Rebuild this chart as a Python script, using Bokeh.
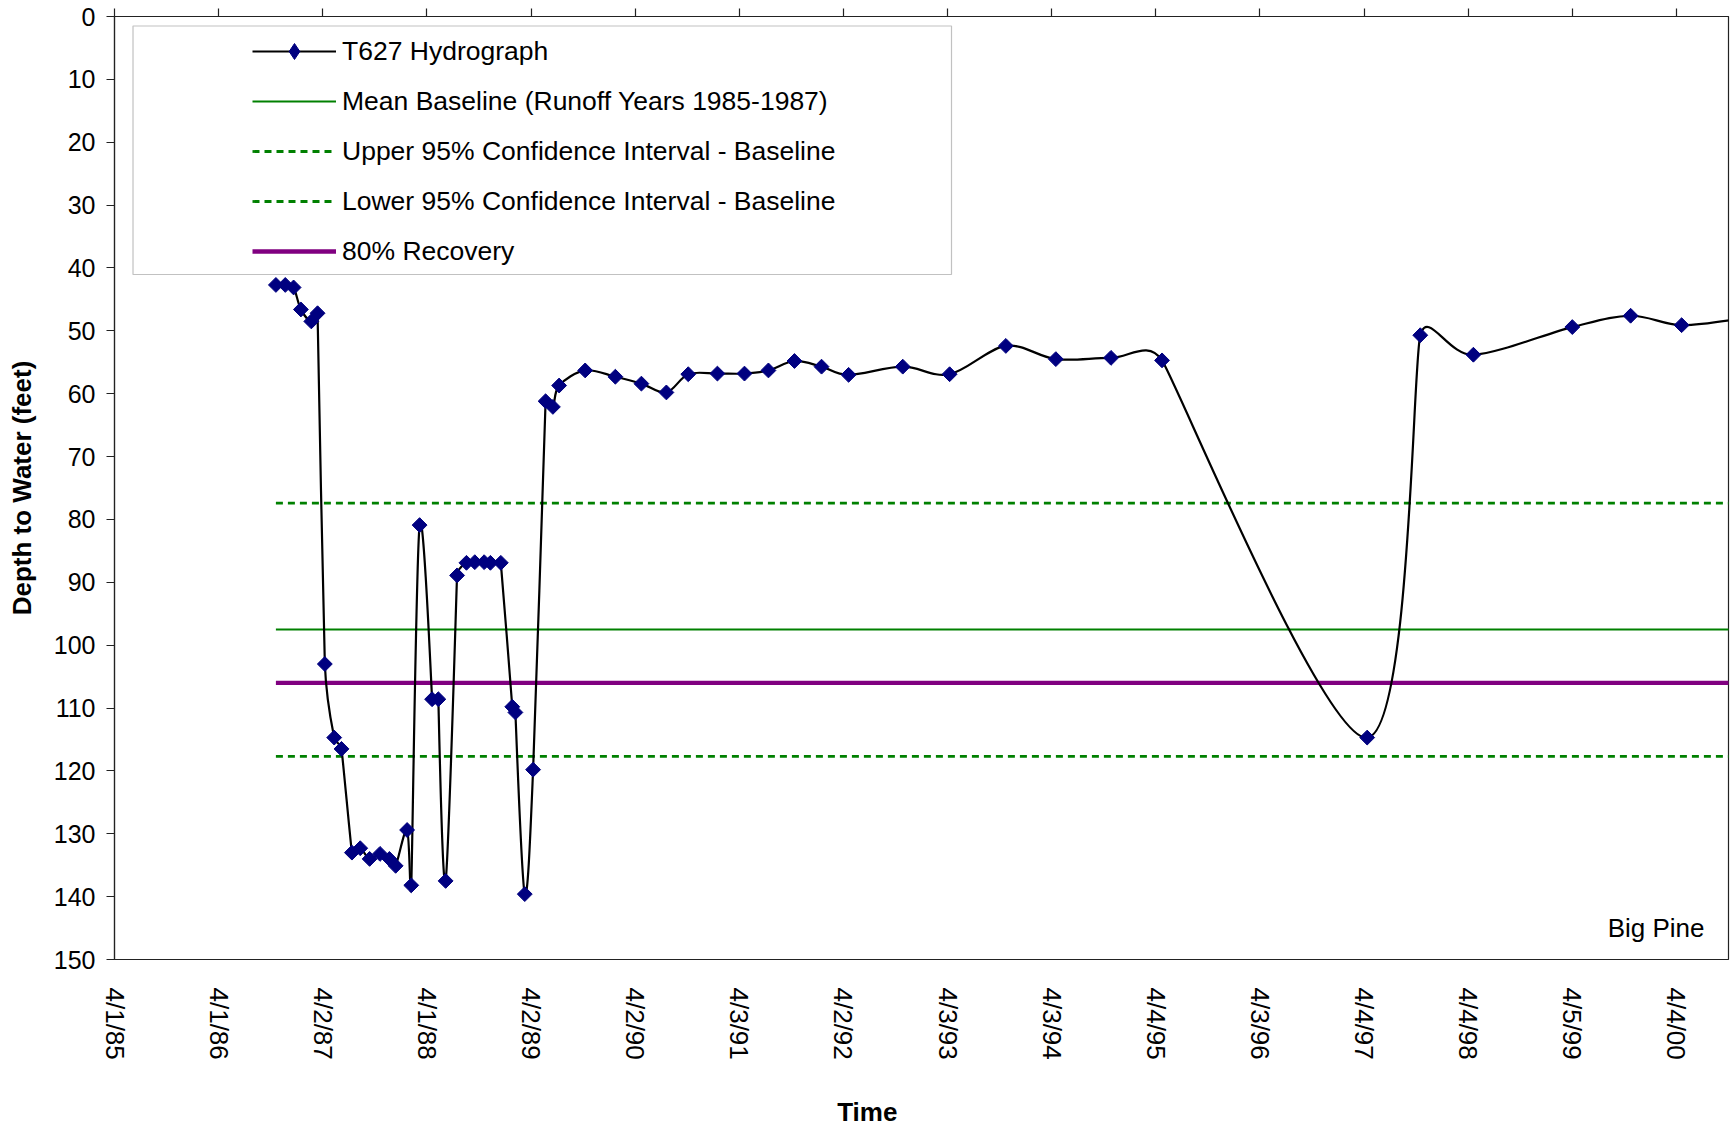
import math
from bokeh.plotting import figure
from bokeh.models import (Range1d, FixedTicker, LinearAxis, Legend, LegendItem,
                          BoxAnnotation, Label, ColumnDataSource)
from bokeh.embed import file_html
from bokeh.resources import INLINE

# ---------------- data ----------------
tick_labels = ["4/1/85", "4/1/86", "4/2/87", "4/1/88", "4/2/89", "4/2/90", "4/3/91",
               "4/2/92", "4/3/93", "4/3/94", "4/4/95", "4/3/96", "4/4/97", "4/4/98",
               "4/5/99", "4/4/00"]
tick_start = 1985.25  # 4/1/85 as decimal year

dates = [1986.80, 1986.89, 1986.97, 1987.04, 1987.14, 1987.20, 1987.27, 1987.36,
         1987.43, 1987.53, 1987.61, 1987.70, 1987.80, 1987.89, 1987.95, 1988.06,
         1988.10, 1988.18, 1988.30, 1988.36, 1988.43, 1988.54, 1988.63, 1988.71,
         1988.80, 1988.86, 1988.96, 1989.07, 1989.10, 1989.19, 1989.27, 1989.39,
         1989.46, 1989.52, 1989.77, 1990.06, 1990.31, 1990.55, 1990.76, 1991.04,
         1991.30, 1991.53, 1991.78, 1992.04, 1992.30, 1992.82, 1993.27, 1993.81,
         1994.29, 1994.82, 1995.31, 1997.28, 1997.79, 1998.30, 1999.25, 1999.81,
         2000.30, 2000.90]
depth = [42.7, 42.7, 43.1, 46.6, 48.5, 47.2, 103.0, 114.7,
         116.5, 133.0, 132.3, 134.0, 133.2, 134.0, 135.1, 129.4,
         138.2, 80.9, 108.6, 108.6, 137.5, 88.9, 86.9, 86.8,
         86.8, 86.9, 86.9, 109.8, 110.7, 139.6, 119.8, 61.2,
         62.1, 58.7, 56.3, 57.3, 58.4, 59.8, 56.9, 56.8,
         56.8, 56.3, 54.8, 55.7, 57.0, 55.7, 56.9, 52.4,
         54.5, 54.3, 54.7, 114.7, 50.7, 53.8, 49.4, 47.6,
         49.1, 48.0]

mean_baseline = 97.5
upper_ci = 77.4
lower_ci = 117.7
recovery_80 = 106.0

y_ticks = list(range(0, 151, 10))

# ---------------- layout ----------------
X_START, X_END = 1985.25, 2000.75
Y_MIN, Y_MAX = 0, 150
W, H = 1730, 1129
BL, BR, BT, BB = 114, 2, 16, 169
FONT = "Liberation Sans"

p = figure(width=W, height=H, output_backend="svg", toolbar_location=None,
           x_range=Range1d(X_START, X_END), y_range=Range1d(Y_MAX, Y_MIN),
           min_border_left=BL, min_border_right=BR, min_border_top=BT,
           min_border_bottom=BB, x_axis_location=None, y_axis_location=None,
           background_fill_color="white", border_fill_color="white")
p.xgrid.visible = False
p.ygrid.visible = False
p.outline_line_color = "#222222"
p.outline_line_width = 1.2

x_tick_pos = [tick_start + i for i in range(len(tick_labels))]

# bottom axis: labels only; title centred on the whole chart (as in the original),
# i.e. shifted left of the plot-area centre by trailing no-break spaces
xb = LinearAxis(ticker=FixedTicker(ticks=x_tick_pos),
                major_label_overrides={t: l for t, l in zip(x_tick_pos, tick_labels)},
                major_label_orientation=-math.pi / 2,
                major_label_text_font=FONT, major_label_text_font_size="26px",
                major_label_text_color="black", major_label_standoff=28,
                major_tick_out=0, major_tick_in=0, minor_tick_out=0, minor_tick_in=0,
                axis_line_color=None, axis_label="Time" + "\u00a0" * 15,
                axis_label_standoff=34,
                axis_label_text_font=FONT, axis_label_text_font_size="26px",
                axis_label_text_font_style="bold", axis_label_text_color="black")
p.add_layout(xb, "below")

# top axis: tick marks only (axis crosses at depth 0)
xt = LinearAxis(ticker=FixedTicker(ticks=x_tick_pos),
                major_label_overrides={t: "" for t in x_tick_pos},
                major_label_text_font_size="0px", major_label_standoff=0,
                major_tick_out=8, major_tick_in=0, minor_tick_out=0, minor_tick_in=0,
                major_tick_line_color="#222222", major_tick_line_width=1.2,
                axis_line_color="#222222", axis_line_width=1.2)
p.add_layout(xt, "above")

ya = LinearAxis(ticker=FixedTicker(ticks=y_ticks),
                major_label_text_font=FONT, major_label_text_font_size="25px",
                major_label_text_color="black", major_label_standoff=11,
                major_tick_out=8, major_tick_in=0, minor_tick_out=0, minor_tick_in=0,
                major_tick_line_color="#222222", major_tick_line_width=1.2,
                axis_line_color="#222222", axis_line_width=1.2,
                axis_label="Depth to Water (feet)", axis_label_standoff=14,
                axis_label_text_font=FONT, axis_label_text_font_size="26px",
                axis_label_text_font_style="bold", axis_label_text_color="black")
p.add_layout(ya, "left")

# ---------------- reference lines ----------------
line_x = [dates[0], dates[-1]]
GREEN = "#008000"
r_mean = p.line(line_x, [mean_baseline] * 2, line_color=GREEN, line_width=2)
r_up = p.line(line_x, [upper_ci] * 2, line_color=GREEN, line_width=2.8, line_dash="7 5")
r_low = p.line(line_x, [lower_ci] * 2, line_color=GREEN, line_width=2.8, line_dash="7 5")
r_rec = p.line(line_x, [recovery_80] * 2, line_color="#800080", line_width=4.3)

# ---------------- smoothed hydrograph (Excel-style bezier smoothing) ----------------
frame_w = W - BL - BR
frame_h = H - BT - BB
sx = frame_w / (X_END - X_START)
sy = frame_h / (Y_MAX - Y_MIN)
P = [(x * sx, y * sy) for x, y in zip(dates, depth)]
n = len(P)
fs, tans = [], []
for i in range(n):
    prev = P[max(i - 1, 0)]
    nxt = P[min(i + 1, n - 1)]
    t = (nxt[0] - prev[0], nxt[1] - prev[1])
    d02 = math.hypot(*t)
    if i == 0 or i == n - 1:
        f = 1 / 6
    else:
        d01 = math.hypot(P[i][0] - prev[0], P[i][1] - prev[1])
        d12 = math.hypot(nxt[0] - P[i][0], nxt[1] - P[i][1])
        f = min(1 / 6, d01 / (2 * d02), d12 / (2 * d02)) if d02 > 0 else 0
    fs.append(f)
    tans.append(t)

seg = dict(x0=[], y0=[], x1=[], y1=[], cx0=[], cy0=[], cx1=[], cy1=[])
for i in range(n - 1):
    a, b = P[i], P[i + 1]
    c0 = (a[0] + fs[i] * tans[i][0], a[1] + fs[i] * tans[i][1])
    c1 = (b[0] - fs[i + 1] * tans[i + 1][0], b[1] - fs[i + 1] * tans[i + 1][1])
    seg["x0"].append(a[0] / sx); seg["y0"].append(a[1] / sy)
    seg["x1"].append(b[0] / sx); seg["y1"].append(b[1] / sy)
    seg["cx0"].append(c0[0] / sx); seg["cy0"].append(c0[1] / sy)
    seg["cx1"].append(c1[0] / sx); seg["cy1"].append(c1[1] / sy)

p.bezier(x0="x0", y0="y0", x1="x1", y1="y1", cx0="cx0", cy0="cy0", cx1="cx1", cy1="cy1",
         source=ColumnDataSource(seg), line_color="black", line_width=2.2)
NAVY = "#000080"

# legend-only renderers for the hydrograph entry (single first point, hidden under the marker)
leg_line = p.line(x=dates[:1], y=depth[:1], line_color="black", line_width=2.2)
leg_mark = p.scatter(x=dates[:1], y=depth[:1], marker="diamond", size=10,
                     fill_color=NAVY, line_color=NAVY)

p.scatter(dates, depth, marker="square", angle=math.pi / 4, size=10.5,
          fill_color=NAVY, line_color=NAVY)

# ---------------- legend ----------------
box = BoxAnnotation(left=18.5, right=837, top=933.5, bottom=685,
                    left_units="screen", right_units="screen",
                    top_units="screen", bottom_units="screen",
                    fill_color="white", fill_alpha=1.0, line_color="#333333",
                    line_width=1.2, level="annotation")
p.add_layout(box)

legend = Legend(items=[
    LegendItem(label="T627 Hydrograph", renderers=[leg_line, leg_mark]),
    LegendItem(label="Mean Baseline (Runoff Years 1985-1987)", renderers=[r_mean]),
    LegendItem(label="Upper 95% Confidence Interval - Baseline", renderers=[r_up]),
    LegendItem(label="Lower 95% Confidence Interval - Baseline", renderers=[r_low]),
    LegendItem(label="80% Recovery", renderers=[r_rec]),
], location=(138, 688), orientation="vertical", border_line_color=None,
    background_fill_alpha=0, padding=0, margin=0, spacing=10,
    glyph_width=84, glyph_height=40, label_height=40, label_standoff=6,
    label_text_font=FONT, label_text_font_size="26.5px", label_text_color="black")
p.add_layout(legend)

p.add_layout(Label(x=X_END, y=Y_MAX, x_offset=-24, y_offset=32, text="Big Pine",
                   text_align="right", text_baseline="middle", text_font=FONT,
                   text_font_size="26px", text_color="black"))

open("out.html", "w").write(file_html(p, INLINE))
